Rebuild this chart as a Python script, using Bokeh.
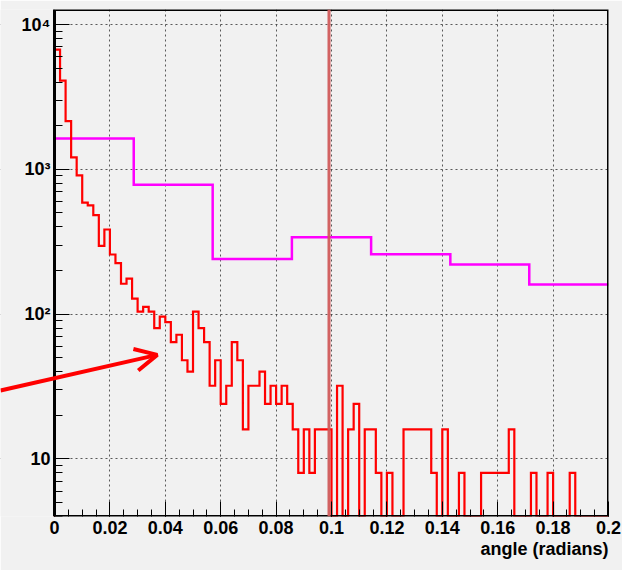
import numpy as np
from bokeh.plotting import figure
from bokeh.models import (FixedTicker, Span, Arrow, OpenHead, Title, BoxAnnotation)
from bokeh.embed import file_html
from bokeh.resources import INLINE

# ---------------- data ----------------
red_lo, red_hi, red_nbins = 0.0, 0.2, 100
red_counts = [6700, 4100, 2150, 1210, 908, 588, 564, 482, 296, 384,
              258, 225, 162, 176, 128, 104, 112, 104, 80, 96,
              88, 64, 72, 48, 40, 104, 80, 64, 32, 48,
              24, 32, 64, 48, 16, 32, 32, 40, 24, 32,
              24, 32, 24, 16, 8, 16, 8, 16, 16, 16,
              0, 32, 0, 16, 24, 0, 16, 16, 8, 0,
              8, 0, 0, 16, 16, 16, 16, 16, 8, 0,
              16, 0, 0, 8, 0, 0, 0, 8, 8, 8,
              8, 8, 16, 0, 0, 0, 8, 0, 0, 8,
              0, 0, 0, 8, 0, 0, 0, 0, 0, 0]

mag_edges = [0.0, 0.0286, 0.0571, 0.0857, 0.1143, 0.1429, 0.1714, 0.2]
mag_counts = [1630, 783, 240, 339, 259, 220, 160]

cut_angle = 0.0991          # vertical reference line
arrow_from = (-0.0195, 29.7)
arrow_to = (0.0371, 52.3)

x_ticks = [0.0, 0.02, 0.04, 0.06, 0.08, 0.1, 0.12, 0.14, 0.16, 0.18, 0.2]
x_tick_labels = ["0", "0.02", "0.04", "0.06", "0.08", "0.1", "0.12", "0.14", "0.16", "0.18", "0.2"]
y_ticks = [10, 100, 1000, 10000]
y_tick_labels = ["10", "10\u00b2", "10\u00b3", "10\u2074"]
x_title = "angle (radians)"

x_axis_lo, x_axis_hi = 0.0, 0.2
x_view_lo = -0.0195          # view extends left so the arrow tail shows
y_lo, y_hi = 4.0, 12700.0
# ---------------------------------------------------------------

BG = "#f1f1f1"
FONT = "Liberation Sans"


def step_path(edges, counts, floor):
    edges = np.asarray(edges, float)
    c = np.asarray(counts, float)
    c = np.where(c > 0, c, floor)
    xs = [edges[0]]
    ys = [floor]
    for i in range(len(c)):
        xs += [edges[i], edges[i + 1]]
        ys += [c[i], c[i]]
    return xs, ys


p = figure(width=622, height=570, x_range=(x_view_lo, x_axis_hi), y_range=(y_lo, y_hi),
           y_axis_type="log", output_backend="svg", toolbar_location=None,
           min_border_left=0, min_border_right=14, min_border_top=9,
           min_border_bottom=54)
p.background_fill_color = BG
p.border_fill_color = BG
p.outline_line_color = None

# axes
xa = p.xaxis[0]
xa.bounds = (x_axis_lo, x_axis_hi)
xa.ticker = FixedTicker(ticks=x_ticks,
                        minor_ticks=[round(0.005 * k, 4) for k in range(41)])
xa.major_label_overrides = {t: l for t, l in zip(x_ticks, x_tick_labels)}
ya = p.yaxis[0]
ya.fixed_location = x_axis_lo
minors = []
for d in [1, 10, 100, 1000]:
    minors += [m * d for m in range(2, 10)]
ya.ticker = FixedTicker(ticks=y_ticks, minor_ticks=minors)
ya.major_label_overrides = {t: l for t, l in zip(y_ticks, y_tick_labels)}

for ax in (xa, ya):
    ax.axis_line_color = None
    ax.major_tick_out = 0
    ax.minor_tick_out = 0
    ax.major_tick_line_color = "black"
    ax.minor_tick_line_color = "black"
    ax.major_label_text_font = FONT
    ax.major_label_text_font_style = "bold"
    ax.major_label_text_font_size = "18px"
    ax.major_label_text_color = "black"
xa.major_tick_in = 15
xa.minor_tick_in = 7
ya.major_tick_in = 15
ya.minor_tick_in = 8
xa.major_label_standoff = 4
ya.major_label_standoff = 4

for g in (p.xgrid[0], p.ygrid[0]):
    g.grid_line_color = "#333333"
    g.grid_line_dash = "2 3"
    g.grid_line_width = 1
    g.grid_line_alpha = 0.8

# hide the grid left of the axis (outside the histogram frame)
p.add_layout(BoxAnnotation(right=x_axis_lo, fill_color=BG, fill_alpha=1.0,
                           line_alpha=0, level="underlay"))

# magenta histogram
mx, my = step_path(mag_edges, mag_counts, y_lo)
p.line(mx[1:], my[1:], line_color="#ff00ff", line_width=2.5, line_join="miter")

# red histogram
red_edges = np.linspace(red_lo, red_hi, red_nbins + 1)
rx, ry = step_path(red_edges, red_counts, y_lo)
p.line(rx, ry, line_color="#ff0000", line_width=2.2, line_join="miter")

# frame outline of the histogram area (box at the axis bounds)
p.line([x_axis_lo, x_axis_hi, x_axis_hi, x_axis_lo, x_axis_lo],
       [y_lo, y_lo, y_hi, y_hi, y_lo],
       line_color="black", line_width=3, line_join="miter")

# vertical reference line
p.add_layout(Span(location=cut_angle, dimension="height", line_color="#d05a5a",
                  line_width=3, line_alpha=0.95))

# arrow
p.add_layout(Arrow(end=OpenHead(size=22, line_color="#ff0000", line_width=4),
                   x_start=arrow_from[0], y_start=arrow_from[1],
                   x_end=arrow_to[0], y_end=arrow_to[1],
                   line_color="#ff0000", line_width=4))

# x title at the right end of the axis
p.add_layout(Title(text=x_title, align="right", text_font=FONT,
                   text_font_style="bold", text_font_size="18px",
                   text_color="black", standoff=0), "below")

open("out.html", "w").write(file_html(p, INLINE))
